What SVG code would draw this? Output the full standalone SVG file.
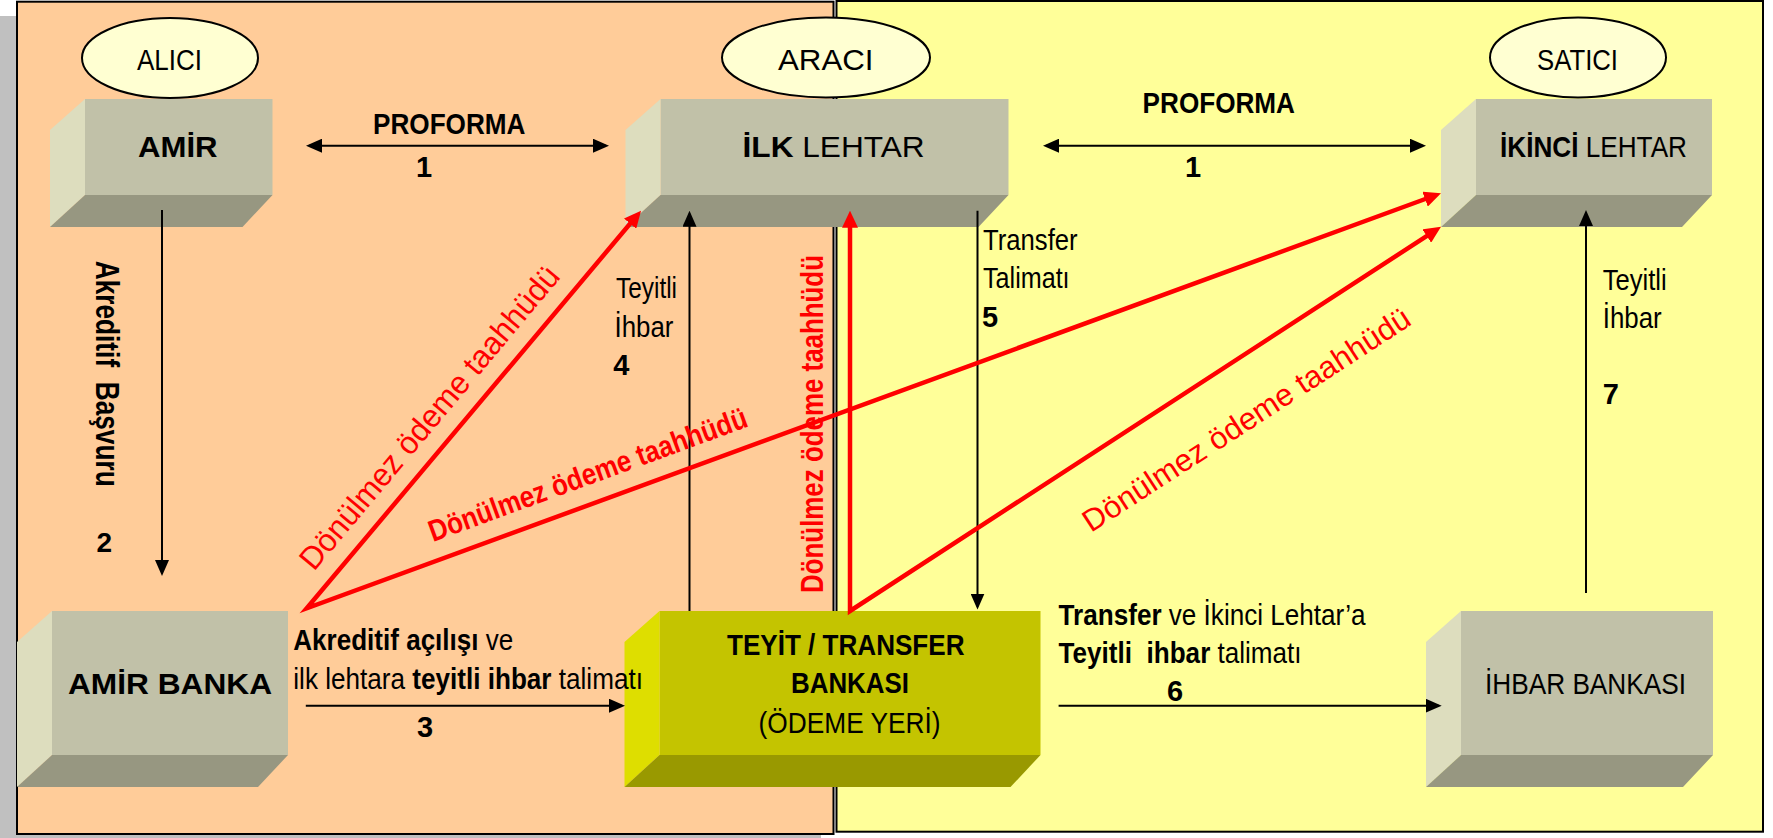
<svg xmlns="http://www.w3.org/2000/svg" width="1773" height="838" viewBox="0 0 1773 838">
<style>
text{font-family:"Liberation Sans",Arial,sans-serif;fill:#000;}
.t{font-size:30px;}
.b{font-weight:bold;}
.r{font-weight:normal;}
.red{fill:#FF0000;}
.front{fill:#C1C1A8;}
.side{fill:#DDDDBE;}
.bot{fill:#979781;}
.yfront{fill:#C4C400;}
.yside{fill:#DEDE00;}
.ybot{fill:#999900;}
.ell{fill:#FFFFD2;stroke:#000;stroke-width:2;}
.bl{stroke:#000;stroke-width:2;fill:none;}
.rl{stroke:#FF0000;stroke-width:4.5;fill:none;stroke-linejoin:miter;}
</style>
<defs>
<marker id="ab" markerUnits="userSpaceOnUse" markerWidth="16" markerHeight="14" refX="13" refY="7" orient="auto-start-reverse">
<path d="M0,0 L16,7 L0,14 z" fill="#000"/>
</marker>
<marker id="ar" markerUnits="userSpaceOnUse" markerWidth="17" markerHeight="16" refX="9" refY="8" orient="auto-start-reverse">
<path d="M0,0 L17,8 L0,16 z" fill="#FF0000"/>
</marker>
</defs>

<g id="background">
<rect x="0" y="16" width="821" height="822" fill="#C0C0C0"/>
<rect x="17" y="1.7" width="816.5" height="832.3" fill="#FFCC99" stroke="#000" stroke-width="2"/>
<rect x="836.5" y="1" width="926.5" height="830.7" fill="#FFFF99" stroke="#000" stroke-width="2"/>
</g>

<g id="alici">
<ellipse class="ell" cx="170" cy="58" rx="88" ry="40"/>
<text class="t" x="137" y="70" textLength="65" lengthAdjust="spacingAndGlyphs">ALICI</text>
</g>
<g id="araci">
<ellipse class="ell" cx="826" cy="57.5" rx="104" ry="40"/>
<text class="t" x="778" y="70" textLength="95.5" lengthAdjust="spacingAndGlyphs">ARACI</text>
</g>
<g id="satici">
<ellipse class="ell" cx="1578" cy="57.5" rx="88" ry="40"/>
<text class="t" x="1537" y="70" textLength="81" lengthAdjust="spacingAndGlyphs">SATICI</text>
</g>

<g id="amir">
<rect class="front" x="85" y="99" width="187.5" height="96"/>
<polygon class="side" points="50,130 85,99 85,195 50,227"/>
<polygon class="bot" points="85,195 272.5,195 242.5,227 50,227"/>
<text class="t b" x="138" y="157" textLength="79.5" lengthAdjust="spacingAndGlyphs">AMİR</text>
</g>

<g id="ilk-lehtar">
<rect class="front" x="660.5" y="99" width="348" height="96"/>
<polygon class="side" points="625.5,130 660.5,99 660.5,195 625.5,227"/>
<polygon class="bot" points="660.5,195 1008.5,195 978.5,227 625.5,227"/>
<text class="t" x="742.6" y="157" textLength="182" lengthAdjust="spacingAndGlyphs"><tspan class="b">İLK</tspan> LEHTAR</text>
</g>

<g id="ikinci-lehtar">
<rect class="front" x="1476" y="99" width="236" height="96"/>
<polygon class="side" points="1441,130 1476,99 1476,195 1441,227"/>
<polygon class="bot" points="1476,195 1712,195 1682,227 1441,227"/>
<text class="t" x="1500" y="157" textLength="187" lengthAdjust="spacingAndGlyphs"><tspan class="b">İKİNCİ</tspan> LEHTAR</text>
</g>

<g id="amir-banka">
<rect class="front" x="52" y="611" width="236" height="144"/>
<polygon class="side" points="17,642 52,611 52,755 17,787"/>
<polygon class="bot" points="52,755 288,755 258,787 17,787"/>
<text class="t b" x="68" y="694" textLength="204" lengthAdjust="spacingAndGlyphs">AMİR BANKA</text>
</g>

<g id="teyit-transfer-bankasi">
<rect class="yfront" x="659.5" y="611" width="381" height="144"/>
<polygon class="yside" points="624.5,642 659.5,611 659.5,755 624.5,787"/>
<polygon class="ybot" points="659.5,755 1040.5,755 1010.5,787 624.5,787"/>
<text class="t b" x="727" y="655" textLength="237.5" lengthAdjust="spacingAndGlyphs">TEYİT / TRANSFER</text>
<text class="t b" x="791" y="693.3" textLength="118" lengthAdjust="spacingAndGlyphs">BANKASI</text>
<text class="t" x="758.6" y="732.7" textLength="182" lengthAdjust="spacingAndGlyphs">(ÖDEME YERİ)</text>
</g>

<g id="ihbar-bankasi">
<rect class="front" x="1461" y="611" width="252" height="144"/>
<polygon class="side" points="1426,642 1461,611 1461,755 1426,787"/>
<polygon class="bot" points="1461,755 1713,755 1683,787 1426,787"/>
<text class="t" x="1485" y="694" textLength="201" lengthAdjust="spacingAndGlyphs">İHBAR BANKASI</text>
</g>

<g id="connectors">
<line class="bl" x1="309" y1="145.7" x2="606" y2="145.7" marker-start="url(#ab)" marker-end="url(#ab)"/>
<line class="bl" x1="1046" y1="145.7" x2="1423" y2="145.7" marker-start="url(#ab)" marker-end="url(#ab)"/>
<line class="bl" x1="162" y1="210" x2="162" y2="573" marker-end="url(#ab)"/>
<line class="bl" x1="305.8" y1="705.7" x2="622" y2="705.7" marker-end="url(#ab)"/>
<line class="bl" x1="689.5" y1="611" x2="689.5" y2="213.7" marker-end="url(#ab)"/>
<line class="bl" x1="977.5" y1="210.7" x2="977.5" y2="606.5" marker-end="url(#ab)"/>
<line class="bl" x1="1058.6" y1="705.7" x2="1438.7" y2="705.7" marker-end="url(#ab)"/>
<line class="bl" x1="1586" y1="593" x2="1586" y2="213" marker-end="url(#ab)"/>
<path class="rl" d="M635.9,216.8 L306.7,608.3 L1433.5,196" marker-start="url(#ar)" marker-end="url(#ar)"/>
<path class="rl" d="M850,218.7 L850,611 L1434.3,231.1" marker-start="url(#ar)" marker-end="url(#ar)"/>
</g>

<g id="labels">
<text class="t b" x="373" y="134" textLength="152.5" lengthAdjust="spacingAndGlyphs">PROFORMA</text>
<text class="b" x="424" y="176.7" font-size="29" text-anchor="middle">1</text>
<text class="t b" x="1142.6" y="113" textLength="152.4" lengthAdjust="spacingAndGlyphs">PROFORMA</text>
<text class="b" x="1193" y="176.7" font-size="29" text-anchor="middle">1</text>

<text class="b" font-size="33" transform="translate(96,260.7) rotate(90)" textLength="226" lengthAdjust="spacingAndGlyphs" xml:space="preserve">Akreditif  Başvuru</text>
<text class="b" x="104.3" y="551.7" font-size="28" text-anchor="middle">2</text>

<text class="t" x="293.3" y="650" textLength="220" lengthAdjust="spacingAndGlyphs"><tspan class="b">Akreditif açılışı</tspan> ve</text>
<text class="t" x="293.3" y="689" textLength="349.6" lengthAdjust="spacingAndGlyphs">ilk lehtara <tspan class="b">teyitli ihbar</tspan> talimatı</text>
<text class="b" x="425" y="736.7" font-size="29" text-anchor="middle">3</text>

<text class="t" x="616" y="298" textLength="61" lengthAdjust="spacingAndGlyphs">Teyitli</text>
<text class="t" x="614.5" y="336.7" textLength="59" lengthAdjust="spacingAndGlyphs">İhbar</text>
<text class="b" x="613.3" y="375" font-size="29">4</text>

<text class="t" x="983" y="250" textLength="94.6" lengthAdjust="spacingAndGlyphs">Transfer</text>
<text class="t" x="983" y="288.3" textLength="86.6" lengthAdjust="spacingAndGlyphs">Talimatı</text>
<text class="b" x="982" y="326.7" font-size="29">5</text>

<text class="t" x="1058.6" y="625" textLength="307" lengthAdjust="spacingAndGlyphs"><tspan class="b">Transfer</tspan> ve İkinci Lehtar’a</text>
<text class="t" x="1058.6" y="663.3" textLength="243" lengthAdjust="spacingAndGlyphs" xml:space="preserve"><tspan class="b">Teyitli  ihbar</tspan> talimatı</text>
<text class="b" x="1175" y="701" font-size="29" text-anchor="middle">6</text>

<text class="t" x="1602.7" y="290" textLength="64" lengthAdjust="spacingAndGlyphs">Teyitli</text>
<text class="t" x="1602.7" y="327.7" textLength="59" lengthAdjust="spacingAndGlyphs">İhbar</text>
<text class="b" x="1602.7" y="404" font-size="29">7</text>

<text class="red" font-size="32" transform="translate(314,572) rotate(-50)" textLength="385" lengthAdjust="spacingAndGlyphs">Dönülmez ödeme taahhüdü</text>
<text class="red b" font-size="30" transform="translate(433,542) rotate(-20.1)" textLength="337" lengthAdjust="spacingAndGlyphs">Dönülmez ödeme taahhüdü</text>
<text class="red b" font-size="32" transform="translate(822.5,593) rotate(-90)" textLength="338" lengthAdjust="spacingAndGlyphs">Dönülmez ödeme taahhüdü</text>
<text class="red" font-size="31" transform="translate(1091,533) rotate(-33)" textLength="384" lengthAdjust="spacingAndGlyphs">Dönülmez ödeme taahhüdü</text>
</g>
</svg>
